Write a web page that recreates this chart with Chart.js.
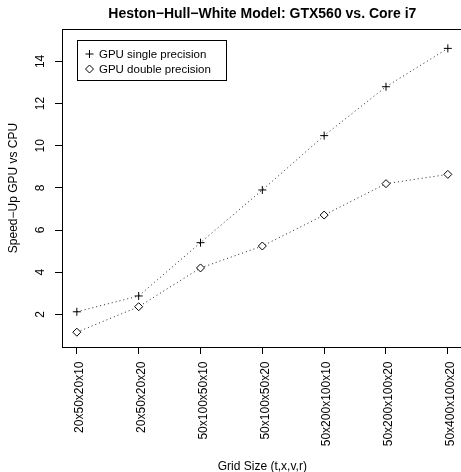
<!DOCTYPE html>
<html>
<head>
<meta charset="utf-8">
<script src="https://cdn.jsdelivr.net/npm/chart.js@4/dist/chart.umd.min.js"></script>
<style>
html,body{margin:0;padding:0;background:#fff;overflow:hidden;width:461px;height:472px;}
canvas{display:block;}
</style>
</head>
<body>
<canvas id="c" width="470" height="480" style="width:470px;height:480px;"></canvas>
<script>
const categories = ['20x50x20x10','20x50x20x20','50x100x50x10','50x100x50x20','50x200x100x10','50x200x100x20','50x400x100x20'];
const singlePrecision = [2.12, 2.87, 5.40, 7.90, 10.48, 12.80, 14.62];
const doublePrecision = [1.15, 2.36, 4.20, 5.24, 6.71, 8.20, 8.64];
const yTickValues = [2, 4, 6, 8, 10, 12, 14];
const yTickLabels = ['2', '4', '6', '8', '10', '12', '14'];
const seriesNames = ['GPU single precision', 'GPU double precision'];
const titleText = 'Heston\u2212Hull\u2212White Model: GTX560 vs. Core i7';
const xTitle = 'Grid Size (t,x,v,r)';
const yTitle = 'Speed\u2212Up GPU vs CPU';

const FONT = '"Liberation Sans", Arial, Helvetica, sans-serif';

const boxPlugin = {
  id: 'boxPlugin',
  afterDraw(chart) {
    const ctx = chart.ctx, a = chart.chartArea;
    ctx.save();
    ctx.strokeStyle = '#000';
    ctx.lineWidth = 1;
    ctx.strokeRect(Math.round(a.left) + 0.5, Math.round(a.top) + 0.5, Math.round(a.right - a.left), Math.round(a.bottom - a.top));
    // rotated y tick labels
    const ys = chart.scales.y;
    ctx.fillStyle = '#000';
    ctx.font = '12px ' + FONT;
    ctx.textAlign = 'center';
    ctx.textBaseline = 'middle';
    yTickValues.forEach((v, i) => {
      const py = ys.getPixelForValue(v);
      ctx.save();
      ctx.translate(41, py);
      ctx.rotate(-Math.PI / 2);
      ctx.fillText(yTickLabels[i], 0, 0);
      ctx.restore();
    });
    // legend
    const lx = 77, ly = 40, lw = 149, lh = 40;
    ctx.strokeRect(lx + 0.5, ly + 0.5, lw, lh);
    ctx.textAlign = 'left';
    ctx.font = '11.5px ' + FONT;
    const rows = [54, 69];
    chart.data.datasets.forEach((ds, i) => {
      const sx = 89.5, sy = rows[i];
      ctx.beginPath();
      ctx.lineWidth = 1;
      if (ds.pointStyle === 'cross') {
        ctx.moveTo(sx - 4, sy); ctx.lineTo(sx + 4, sy);
        ctx.moveTo(sx, sy - 4); ctx.lineTo(sx, sy + 4);
      } else {
        ctx.moveTo(sx, sy - 4); ctx.lineTo(sx + 4, sy); ctx.lineTo(sx, sy + 4); ctx.lineTo(sx - 4, sy); ctx.closePath();
      }
      ctx.stroke();
      ctx.fillText(ds.label, 99, sy + 0.5);
    });
    ctx.restore();
  }
};

const toPts = arr => arr.map((v, i) => ({x: i, y: v}));

new Chart(document.getElementById('c'), {
  type: 'line',
  data: {
    datasets: [
      {
        label: seriesNames[0],
        data: toPts(singlePrecision),
        borderColor: '#222',
        borderWidth: 1,
        borderDash: [1, 3],
        pointStyle: 'cross',
        pointRadius: 4,
        pointBorderColor: '#000',
        pointBorderWidth: 1,
        fill: false,
        tension: 0
      },
      {
        label: seriesNames[1],
        data: toPts(doublePrecision),
        borderColor: '#222',
        borderWidth: 1,
        borderDash: [1, 3],
        pointStyle: 'rectRot',
        pointRadius: 4,
        pointBorderColor: '#000',
        pointBackgroundColor: '#fff',
        pointBorderWidth: 1,
        fill: false,
        tension: 0
      }
    ]
  },
  options: {
    responsive: false,
    animation: false,
    devicePixelRatio: 1,
    layout: { padding: { top: 0, left: 0, right: 4, bottom: 5.8 } },
    plugins: {
      legend: { display: false },
      tooltip: { enabled: false },
      title: {
        display: true,
        text: titleText,
        fullSize: false,
        color: '#000',
        font: { family: FONT, size: 14, weight: 'bold', lineHeight: 1.2 },
        padding: { top: 6, bottom: 6.2 }
      }
    },
    scales: {
      x: {
        type: 'linear',
        min: -0.24,
        max: 6.24,
        afterBuildTicks(scale) { scale.ticks = categories.map((c, i) => ({value: i})); },
        afterFit(scale) { scale.height = 127.2; },
        ticks: {
          autoSkip: false,
          minRotation: 90,
          maxRotation: 90,
          padding: 7.5,
          labelOffset: 3,
          color: '#000',
          font: { family: FONT, size: 12 },
          callback: (v) => categories[v]
        },
        grid: { drawOnChartArea: false, drawTicks: true, tickLength: 7, color: '#000', lineWidth: 1 },
        border: { display: false },
        title: {
          display: true,
          text: xTitle,
          color: '#000',
          font: { family: FONT, size: 12, lineHeight: 1.2 },
          padding: 0
        }
      },
      y: {
        type: 'linear',
        min: 0.448,
        max: 15.54,
        afterBuildTicks(scale) { scale.ticks = yTickValues.map(v => ({value: v})); },
        afterFit(scale) { scale.width = 62; },
        ticks: { display: false },
        grid: { drawOnChartArea: false, drawTicks: true, tickLength: 7, color: '#000', lineWidth: 1 },
        border: { display: false },
        title: {
          display: true,
          text: yTitle,
          color: '#000',
          font: { family: FONT, size: 12, lineHeight: 1.2 },
          padding: { top: 6, bottom: 0 }
        }
      }
    }
  },
  plugins: [boxPlugin]
});
</script>
</body>
</html>
